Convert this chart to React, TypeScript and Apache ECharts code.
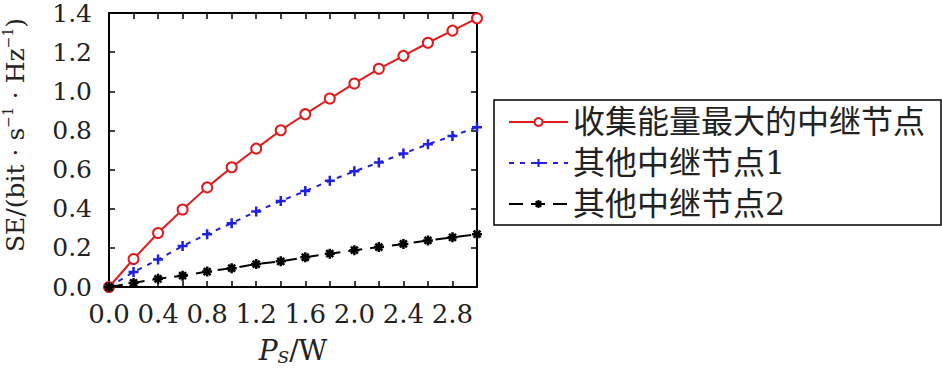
import React, { useEffect, useRef } from "react";
import * as echarts from "echarts";

const xValues = [0, 0.2, 0.4, 0.6, 0.8, 1.0, 1.2, 1.4, 1.6, 1.8, 2.0, 2.2, 2.4, 2.6, 2.8, 3.0];
const seriesNames = ["收集能量最大的中继节点", "其他中继节点1", "其他中继节点2"];
const maxRelay = [0, 0.143, 0.276, 0.396, 0.509, 0.612, 0.707, 0.801, 0.883, 0.963, 1.04, 1.115, 1.181, 1.248, 1.31, 1.373];
const otherRelay1 = [0, 0.077, 0.14, 0.209, 0.27, 0.326, 0.386, 0.439, 0.49, 0.543, 0.591, 0.636, 0.682, 0.729, 0.772, 0.816];
const otherRelay2 = [0, 0.021, 0.042, 0.058, 0.079, 0.096, 0.117, 0.131, 0.152, 0.17, 0.188, 0.204, 0.22, 0.238, 0.254, 0.27];

const FONT = "'DejaVu Serif', 'Liberation Serif', 'Noto Sans CJK SC', serif";

export default function App() {
  const ref = useRef<HTMLDivElement>(null);
  useEffect(() => {
    if (!ref.current) return;
    const chart = echarts.init(ref.current, null, { renderer: "svg" });
    const pair = (ys: number[]) => xValues.map((x, i) => [x, ys[i]]);
    const axisCommon = {
      type: "value" as const,
      axisLine: { show: true, onZero: false, lineStyle: { color: "#000", width: 2 } },
      axisTick: { show: true, inside: true, length: 6, lineStyle: { color: "#000", width: 1.5 } },
      splitLine: { show: false },
    };
    chart.setOption({
      animation: false,
      backgroundColor: "#fff",
      grid: { left: 107, right: 465, top: 13, bottom: 69, containLabel: false },
      xAxis: [
        {
          ...axisCommon,
          min: 0,
          max: 3,
          interval: 0.2,
          position: "bottom",
          axisLabel: {
            show: true,
            margin: 16,
            color: "#222",
            fontFamily: FONT,
            fontSize: 26,
            lineHeight: 22,
            formatter: (v: number) => {
              const k = Math.round(v * 10);
              return k % 4 === 0 && k < 30 ? v.toFixed(1) : "";
            },
          },
          name: "{p|P}{s|S}{n|/W}",
          nameLocation: "middle",
          nameGap: 48,
          nameTextStyle: {
            rich: {
              p: { fontFamily: FONT, fontStyle: "italic", fontSize: 28, color: "#222" },
              s: { fontFamily: FONT, fontStyle: "italic", fontSize: 17, color: "#222", padding: [14, 0, 0, 0] },
              n: { fontFamily: FONT, fontSize: 28, color: "#222" },
            },
          },
        },
        {
          ...axisCommon,
          min: 0,
          max: 3,
          interval: 0.2,
          position: "top",
          axisLabel: { show: false },
        },
      ],
      yAxis: [
        {
          ...axisCommon,
          min: 0,
          max: 1.4,
          interval: 0.2,
          position: "left",
          axisLabel: {
            show: true,
            margin: 17,
            color: "#222",
            fontFamily: FONT,
            fontSize: 25,
            lineHeight: 18,
            padding: [3, 0, 0, 0],
            formatter: (v: number) => v.toFixed(1),
          },
          name: "{t|SE/(bit · s}{sup|−1}{t| · Hz}{sup|−1}{t|)}",
          nameLocation: "middle",
          nameGap: 80,
          nameRotate: 90,
          nameTextStyle: {
            padding: [0, 0, 0, 30],
            rich: {
              t: { fontFamily: FONT, fontSize: 25, color: "#222" },
              sup: { fontFamily: FONT, fontSize: 14, color: "#222", padding: [0, 0, 14, 0] },
            },
          },
        },
        {
          ...axisCommon,
          min: 0,
          max: 1.4,
          interval: 0.2,
          position: "right",
          axisLabel: { show: false },
        },
      ],
      legend: {
        orient: "vertical",
        left: 494,
        top: 100,
        backgroundColor: "#fff",
        borderColor: "#000",
        borderWidth: 1.5,
        borderRadius: 0,
        padding: [4, 16, 3, 14],
        itemGap: 5,
        itemWidth: 59,
        itemHeight: 10,
        textStyle: { fontFamily: FONT, fontSize: 32, color: "#222", lineHeight: 36 },
        data: seriesNames,
      },
      series: [
        {
          name: seriesNames[0],
          type: "line",
          data: pair(maxRelay),
          symbol: "circle",
          showSymbol: true,
          symbolSize: 10,
          lineStyle: { color: "#e31a1c", width: 2, type: "solid" },
          itemStyle: { color: "#ffffff", borderColor: "#e31a1c", borderWidth: 2, borderType: "solid" },
          z: 2,
        },
        {
          name: seriesNames[1],
          type: "line",
          data: pair(otherRelay1),
          symbol: "path://M0,-5L0,5M-5,0L5,0",
          symbolSize: 10,
          lineStyle: { color: "#1f1fe0", width: 2, type: [5, 6] },
          itemStyle: { color: "#1f1fe0", borderColor: "#1f1fe0", borderWidth: 2.5, borderType: "solid" },
          z: 3,
        },
        {
          name: seriesNames[2],
          type: "line",
          data: pair(otherRelay2),
          symbol: "path://M0,-5L0,5M-5,0L5,0M-3.5,-3.5L3.5,3.5M-3.5,3.5L3.5,-3.5",
          symbolSize: 10,
          lineStyle: { color: "#000", width: 2, type: [14, 8] },
          itemStyle: { color: "#000", borderColor: "#000", borderWidth: 2.5, borderType: "solid" },
          z: 4,
        },
      ],
    });
    return () => chart.dispose();
  }, []);
  return <div ref={ref} style={{ width: 942, height: 371, position: "absolute", left: 0, top: 0 }} />;
}
